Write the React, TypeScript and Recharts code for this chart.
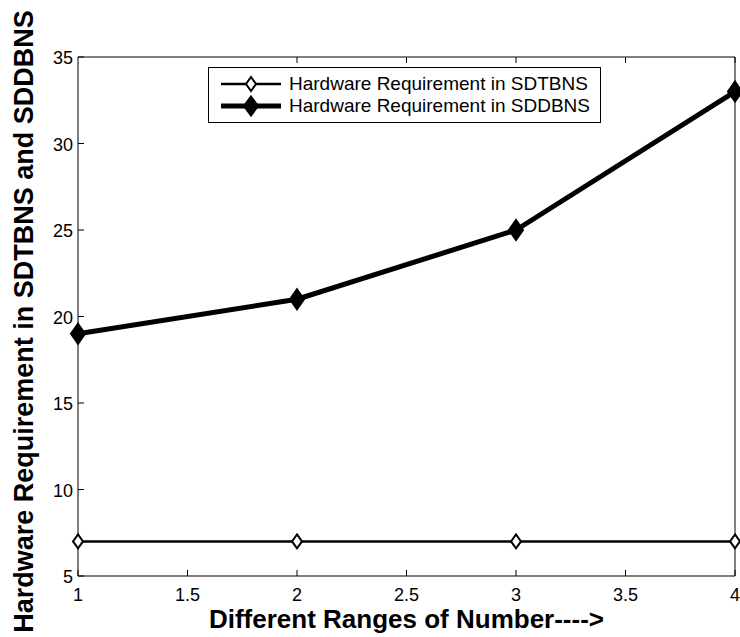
import React from 'react';
import { LineChart, Line, XAxis, YAxis, Legend } from 'recharts';

const categories = [1, 2, 3, 4];
const sdtbnsValues = [7, 7, 7, 7];
const sddbnsValues = [19, 21, 25, 33];
const xTicks = [1, 1.5, 2, 2.5, 3, 3.5, 4];
const yTicks = [5, 10, 15, 20, 25, 30, 35];
const seriesNames = ['Hardware Requirement in SDTBNS', 'Hardware Requirement in SDDBNS'];
const xTitle = 'Different Ranges of Number---->';
const yTitle = 'Hardware Requirement in SDTBNS and SDDBNS';

const data = categories.map((x, i) => ({ x, sdtbns: sdtbnsValues[i], sddbns: sddbnsValues[i] }));

const FONT = '"Liberation Sans", Arial, Helvetica, sans-serif';
const TICK_LEN = 6;

const BottomTick = (props: any) => {
  const { x, y, payload } = props;
  return (
    <g>
      <line x1={x} y1={y} x2={x} y2={y - TICK_LEN} stroke="#000" strokeWidth={1} />
      <text x={x} y={y + 25} textAnchor="middle" fontSize={18} fontFamily={FONT} fill="#000">
        {payload.value}
      </text>
    </g>
  );
};

const TopTick = (props: any) => {
  const { x, y } = props;
  return <line x1={x} y1={y} x2={x} y2={y + TICK_LEN} stroke="#000" strokeWidth={1} />;
};

const LeftTick = (props: any) => {
  const { x, y, payload } = props;
  return (
    <g>
      <line x1={x} y1={y} x2={x + TICK_LEN} y2={y} stroke="#000" strokeWidth={1} />
      <text x={x - 5} y={y + 7} textAnchor="end" fontSize={18} fontFamily={FONT} fill="#000">
        {payload.value}
      </text>
    </g>
  );
};

const RightTick = (props: any) => {
  const { x, y } = props;
  return <line x1={x} y1={y} x2={x - TICK_LEN} y2={y} stroke="#000" strokeWidth={1} />;
};

const diamondPath = (cx: number, cy: number, hw: number, hh: number) =>
  `M${cx},${cy - hh} L${cx + hw},${cy} L${cx},${cy + hh} L${cx - hw},${cy} Z`;

const OpenDiamond = (props: any) => {
  const { cx, cy, index } = props;
  return <path key={`o${index}`} d={diamondPath(cx, cy, 5, 7)} fill="#fff" stroke="#000" strokeWidth={2} />;
};

const FilledDiamond = (props: any) => {
  const { cx, cy, index } = props;
  return <path key={`f${index}`} d={diamondPath(cx, cy, 7, 10)} fill="#000" stroke="#000" strokeWidth={2} />;
};

const YTitle = (props: any) => {
  const { viewBox } = props;
  const cy = viewBox.y + viewBox.height / 2 + 5;
  const cx = viewBox.x + viewBox.width - 45;
  return (
    <text
      x={0}
      y={0}
      transform={`translate(${cx},${cy}) rotate(-90)`}
      textAnchor="middle"
      fontSize={27}
      fontWeight="bold"
      fontFamily={FONT}
      fill="#000"
    >
      {yTitle}
    </text>
  );
};

const renderLegend = () => (
  <div
    style={{
      border: '1px solid #000',
      background: '#fff',
      padding: '5px 10px 5px 11px',
      fontFamily: FONT,
      fontSize: 19,
      lineHeight: '22px',
      color: '#000',
      whiteSpace: 'nowrap',
    }}
  >
    {seriesNames.map((name, i) => (
      <div key={name} style={{ display: 'flex', alignItems: 'center', height: 22 }}>
        <svg width={62} height={22} style={{ marginRight: 7 }}>
          <line x1={1} y1={11} x2={61} y2={11} stroke="#000" strokeWidth={i === 0 ? 2.5 : 5} />
          {i === 0 ? (
            <path d={diamondPath(31, 11, 5, 7)} fill="#fff" stroke="#000" strokeWidth={2} />
          ) : (
            <path d={diamondPath(31, 11, 7, 9.5)} fill="#000" stroke="#000" strokeWidth={2} />
          )}
        </svg>
        <span>{name}</span>
      </div>
    ))}
  </div>
);

export default function App() {
  return (
    <div style={{ position: 'absolute', left: 0, top: 0, width: 740, height: 637, background: '#fff' }}>
      <LineChart
        width={740}
        height={637}
        data={data}
        margin={{ top: 47, right: 0, bottom: 31, left: 38 }}
      >
        <XAxis
          dataKey="x"
          type="number"
          domain={[1, 4]}
          ticks={xTicks}
          height={30}
          tickSize={0}
          tickMargin={0}
          tickLine={false}
          axisLine={{ stroke: '#000', strokeWidth: 1 }}
          tick={<BottomTick />}
          interval={0}
          label={{
            value: xTitle,
            position: 'bottom',
            offset: 4,
            style: { fontSize: 26, fontWeight: 'bold', fontFamily: FONT, fill: '#000' },
          }}
        />
        <XAxis
          xAxisId="top"
          orientation="top"
          type="number"
          domain={[1, 4]}
          ticks={xTicks}
          height={10}
          tickSize={0}
          tickMargin={0}
          tickLine={false}
          axisLine={{ stroke: '#000', strokeWidth: 1 }}
          tick={<TopTick />}
          interval={0}
        />
        <YAxis
          type="number"
          domain={[5, 35]}
          ticks={yTicks}
          width={40}
          tickSize={0}
          tickMargin={0}
          tickLine={false}
          axisLine={{ stroke: '#000', strokeWidth: 1 }}
          tick={<LeftTick />}
          interval={0}
          label={<YTitle />}
        />
        <YAxis
          yAxisId="right"
          orientation="right"
          type="number"
          domain={[5, 35]}
          ticks={yTicks}
          width={5}
          tickSize={0}
          tickMargin={0}
          tickLine={false}
          axisLine={{ stroke: '#000', strokeWidth: 1 }}
          tick={<RightTick />}
          interval={0}
        />
        <Legend
          layout="horizontal"
          verticalAlign="middle"
          align="center"
          wrapperStyle={{ left: 208, top: 67, width: 'auto' }}
          content={renderLegend}
        />
        <Line
          dataKey="sdtbns"
          name={seriesNames[0]}
          stroke="#000"
          strokeWidth={2.5}
          dot={<OpenDiamond />}
          activeDot={false}
          isAnimationActive={false}
        />
        <Line
          dataKey="sddbns"
          name={seriesNames[1]}
          stroke="#000"
          strokeWidth={5}
          dot={<FilledDiamond />}
          activeDot={false}
          isAnimationActive={false}
        />
      </LineChart>
    </div>
  );
}
